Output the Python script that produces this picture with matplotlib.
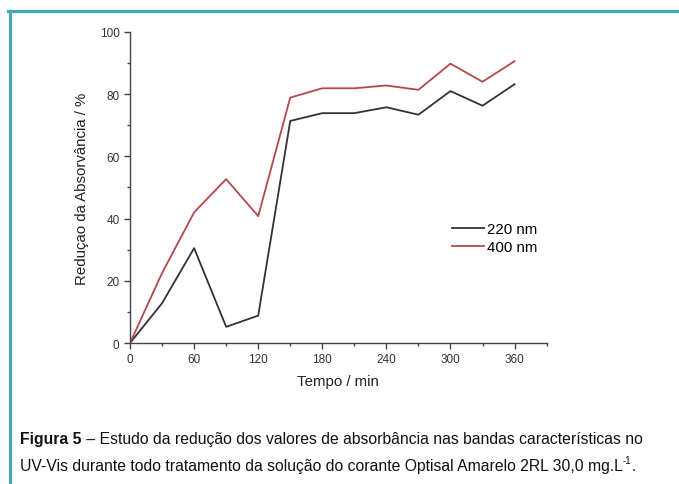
import matplotlib
matplotlib.use('Agg')
import matplotlib.pyplot as plt
from matplotlib.lines import Line2D
from matplotlib.ticker import MultipleLocator

plt.rcParams['font.family'] = ['Liberation Sans', 'DejaVu Sans']

# data
tempo = [0, 30, 60, 90, 120, 150, 180, 210, 240, 270, 300, 330, 360]
red_220 = [0, 12.8, 30.5, 5.2, 8.8, 71.4, 73.9, 73.9, 75.8, 73.4, 81.0, 76.3, 83.2]
red_400 = [0, 22.5, 42.0, 52.7, 40.8, 78.9, 81.9, 81.9, 82.8, 81.4, 89.8, 84.0, 90.6]
x_ticks = [0, 60, 120, 180, 240, 300, 360]
y_ticks = [0, 20, 40, 60, 80, 100]

fig = plt.figure(figsize=(6.79, 4.85), dpi=100)
ax = fig.add_axes([0.1915, 0.2907, 0.6135, 0.6413])

ax.plot(tempo, red_220, color='#333333', lw=1.3, label='220 nm')
ax.plot(tempo, red_400, color='#b5474a', lw=1.3, label='400 nm')

ax.set_xlim(0, 390)
ax.set_ylim(0, 100)
ax.set_xticks(x_ticks)
ax.set_yticks(y_ticks)
ax.xaxis.set_minor_locator(MultipleLocator(30))
ax.yaxis.set_minor_locator(MultipleLocator(10))
ax.spines['top'].set_visible(False)
ax.spines['right'].set_visible(False)
for s in ('left', 'bottom'):
    ax.spines[s].set_color('#444444')
    ax.spines[s].set_linewidth(1.0)
ax.tick_params(which='major', direction='out', length=4, width=1, colors='#444444',
               labelsize=8.5, labelcolor='#333333')
ax.tick_params(which='minor', direction='out', length=2.5, width=1, colors='#444444')

ax.set_xlabel('Tempo / min', fontsize=10.8, color='#222222', labelpad=6)
ax.set_ylabel('Reduçao da Absorvância / %', fontsize=10.8, color='#222222', labelpad=8)

ax.legend(loc='center left', bbox_to_anchor=(0.755, 0.337), frameon=False, fontsize=10.8,
          handlelength=2.1, handletextpad=0.2, labelspacing=0.3, borderpad=0)

# teal frame (top and left edges)
fig.add_artist(Line2D([8 / 679, 1], [1 - 11.5 / 485, 1 - 11.5 / 485], color='#4aa8b0', lw=2.3,
                      transform=fig.transFigure))
fig.add_artist(Line2D([9.5 / 679, 9.5 / 679], [0, 1 - 11.5 / 485], color='#4aa8b0', lw=2.3,
                      transform=fig.transFigure))

# caption
cap = dict(fontsize=11.3, color='#111111')
t1 = fig.text(20 / 679, 1 - 444 / 485, 'Figura 5', fontweight='bold', **cap)
ax.annotate(' – Estudo da redução dos valores de absorbância nas bandas características no',
            xy=(1, 0), xycoords=t1, va='bottom', annotation_clip=False, **cap)
t2 = fig.text(20 / 679, 1 - 471 / 485,
              'UV-Vis durante todo tratamento da solução do corante Optisal Amarelo 2RL 30,0 mg.L', **cap)
t3 = ax.annotate('-1', xy=(1, 0.55), xycoords=t2, va='bottom', fontsize=7, color='#111111',
                 annotation_clip=False)
ax.annotate('.', xy=(1, 0), xycoords=(t3, t2), va='bottom', annotation_clip=False, **cap)

fig.savefig('out.png', dpi=100)
